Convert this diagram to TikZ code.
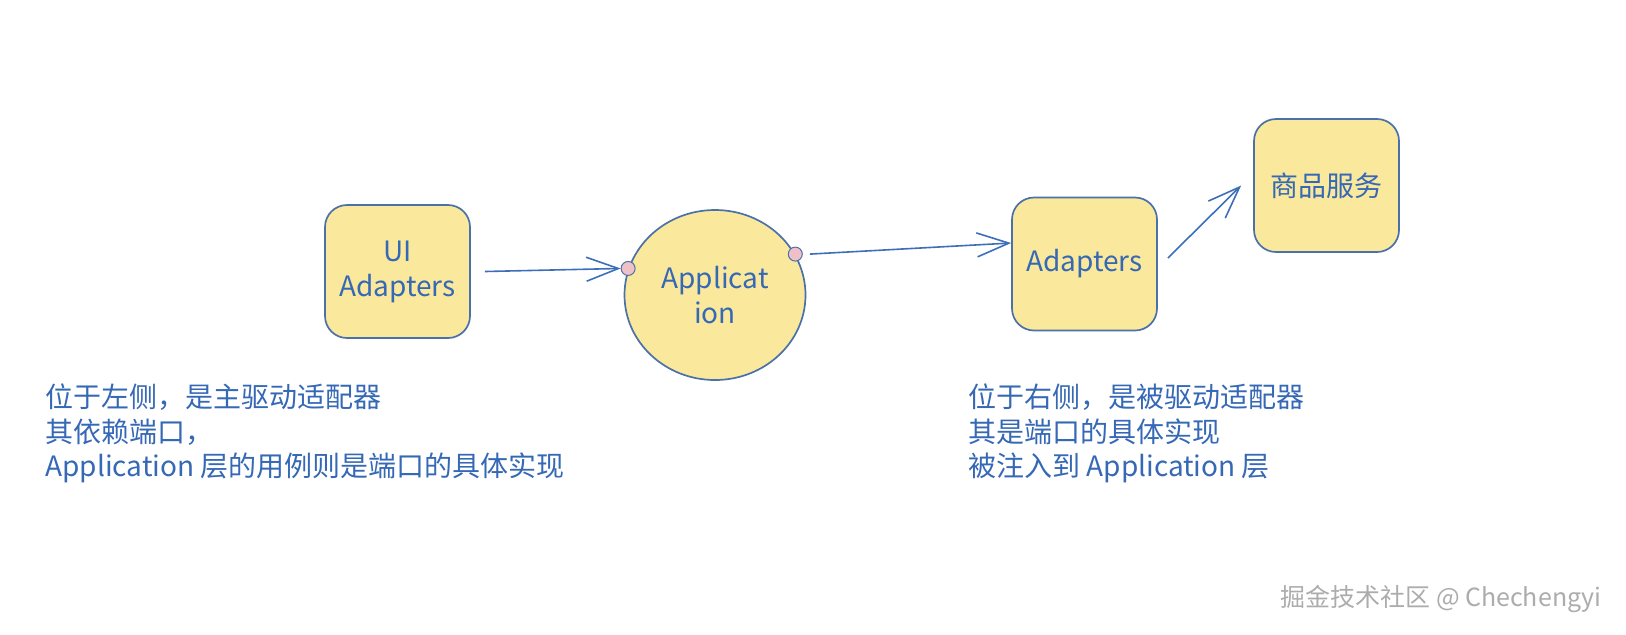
\documentclass[tikz,border=0pt]{standalone}
\usepackage{fontspec}
\setmainfont{Noto Sans CJK SC}
\usetikzlibrary{shapes.geometric, positioning, arrows.meta}

\definecolor{inkblue}{HTML}{3568B5}
\definecolor{edgeblue}{HTML}{4A72A8}
\definecolor{arrowblue}{HTML}{3C6EB9}
\definecolor{padyellow}{HTML}{FAE89C}
\definecolor{portpink}{HTML}{F0C0C8}

\begin{document}
\begin{tikzpicture}[
    x=0.5pt, y=-0.5pt,
    adapter/.style={rectangle, draw=edgeblue, line width=0.85pt, fill=padyellow, rounded corners=11pt, minimum width=72.5pt, minimum height=66.5pt, inner sep=0pt, align=center, text=inkblue, font=\fontsize{14pt}{17.5pt}\selectfont},
    core/.style={ellipse, draw=edgeblue, line width=0.85pt, fill=padyellow, minimum width=90.5pt, minimum height=85pt, inner sep=0pt, align=center, text=inkblue, font=\fontsize{14pt}{17.5pt}\selectfont},
    port/.style={circle, draw=edgeblue, line width=0.5pt, fill=portpink, minimum size=7pt, inner sep=0pt},
    flow/.style={draw=arrowblue, line width=0.8pt, -{Straight Barb[length=16pt, width=12pt]}},
    note/.style={anchor=base west, inner sep=0pt, text=inkblue, font=\fontsize{14pt}{17pt}\selectfont}
]
\useasboundingbox (0,0) rectangle (1626,634);

% --- Приводящий адаптер слева ---
\node[adapter] (ui) at (397.5,271.5) {UI\\Adapters};

% --- Ядро приложения и его порты ---
\node[core] (app) at (715,295) {Applicat\\ion};
\node[port] (pin) at (app.163) {};
\node[port] (pout) at (app.27) {};

% --- Ведомый адаптер и внешний сервис ---
\node[adapter] (adapters) at (1084.5,264) {Adapters};
\node[adapter] (goods) at (1326.5,185.5) {商品服务};

% Связи
\draw[flow] ([xshift=7pt]ui.east) -- (pin.west);
\draw[flow] ([xshift=3.5pt]pout.east) -- ([yshift=10.5pt]adapters.west);
\draw[flow] ([xshift=5pt, yshift=3pt]adapters.east) -- ([xshift=-6pt]goods.west);

% --- Пояснения ---
\node[note] (lnote1) at (45,407) {位于左侧，是主驱动适配器};
\node[note] (lnote2) at (45,442) {其依赖端口，};
\node[note] (lnote3) at (45,476) {Application 层的用例则是端口的具体实现};

\node[note] (rnote1) at (968,407) {位于右侧，是被驱动适配器};
\node[note] (rnote2) at (968,442) {其是端口的具体实现};
\node[note] (rnote3) at (968,476) {被注入到 Application 层};

% Подпись
\node[anchor=base west, inner sep=0pt, text=gray!65, font=\fontsize{12.5pt}{14pt}\selectfont] (mark) at (1280,606) {掘金技术社区 @ Chechengyi};
\end{tikzpicture}
\end{document}
